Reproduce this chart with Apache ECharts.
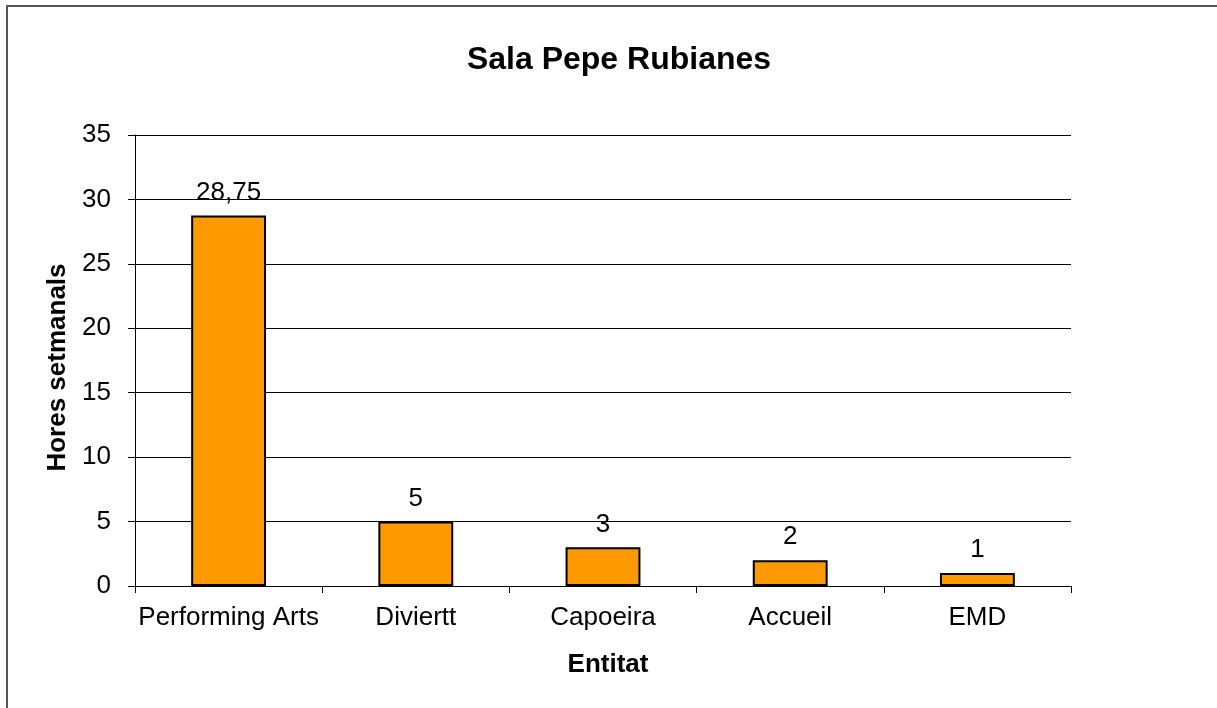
<!DOCTYPE html>
<html><head><meta charset="utf-8">
<script src="https://cdn.jsdelivr.net/npm/echarts@6/dist/echarts.min.js"></script>
<style>html,body{margin:0;padding:0;background:#fff}#c{width:1217px;height:708px}</style>
</head><body><div id="c"></div>
<script>
const categories = ["Performing Arts", "Diviertt", "Capoeira", "Accueil", "EMD"];
const values = [28.75, 5, 3, 2, 1];
const titleText = "Sala Pepe Rubianes";
const yName = "Hores setmanals";
const xName = "Entitat";
const F = "Liberation Sans, Arial, sans-serif";
const chart = echarts.init(document.getElementById('c'));
chart.setOption({
  animation: false,
  backgroundColor: '#fff',
  title: { text: titleText, left: 614, textAlign: 'center', top: 39, textStyle: { fontFamily: F, fontSize: 32, fontWeight: 'bold', color: '#000' } },
  graphic: [{ type: 'rect', shape: { x: 7, y: 6, width: 1400, height: 900 }, style: { fill: 'none', stroke: '#555', lineWidth: 2 }, silent: true }],
  grid: { left: 135, right: 146, top: 135, bottom: 122 },
  xAxis: {
    type: 'category', data: categories,
    name: xName, nameLocation: 'middle', nameGap: 66,
    nameTextStyle: { fontFamily: F, fontSize: 26, fontWeight: 'bold', color: '#000', padding: [0, 0, 0, 10] },
    axisLine: { lineStyle: { color: '#000', width: 1 } },
    axisTick: { show: true, length: 7, interval: 0, alignWithLabel: false, lineStyle: { color: '#000' } },
    axisLabel: { fontFamily: F, fontSize: 26, color: '#000', margin: 19, interval: 0 }
  },
  yAxis: {
    type: 'value', min: 0, max: 35, interval: 5,
    name: yName, nameLocation: 'middle', nameGap: 61,
    nameTextStyle: { fontFamily: F, fontSize: 26, fontWeight: 'bold', color: '#000', padding: [0, 14, 0, 0] },
    axisLine: { show: true, lineStyle: { color: '#000', width: 1 } },
    axisTick: { show: true, length: 7, lineStyle: { color: '#000' } },
    axisLabel: { fontFamily: F, fontSize: 26, color: '#000', margin: 24 },
    splitLine: { show: true, lineStyle: { color: '#000', width: 1 } }
  },
  series: [{
    type: 'bar', data: values, barWidth: '40%',
    itemStyle: { color: '#FF9900', borderColor: '#000', borderWidth: 2 },
    label: { show: true, position: 'top', distance: 10, fontFamily: F, fontSize: 26, color: '#000',
      formatter: p => String(p.value).replace('.', ',') }
  }]
});
</script></body></html>
